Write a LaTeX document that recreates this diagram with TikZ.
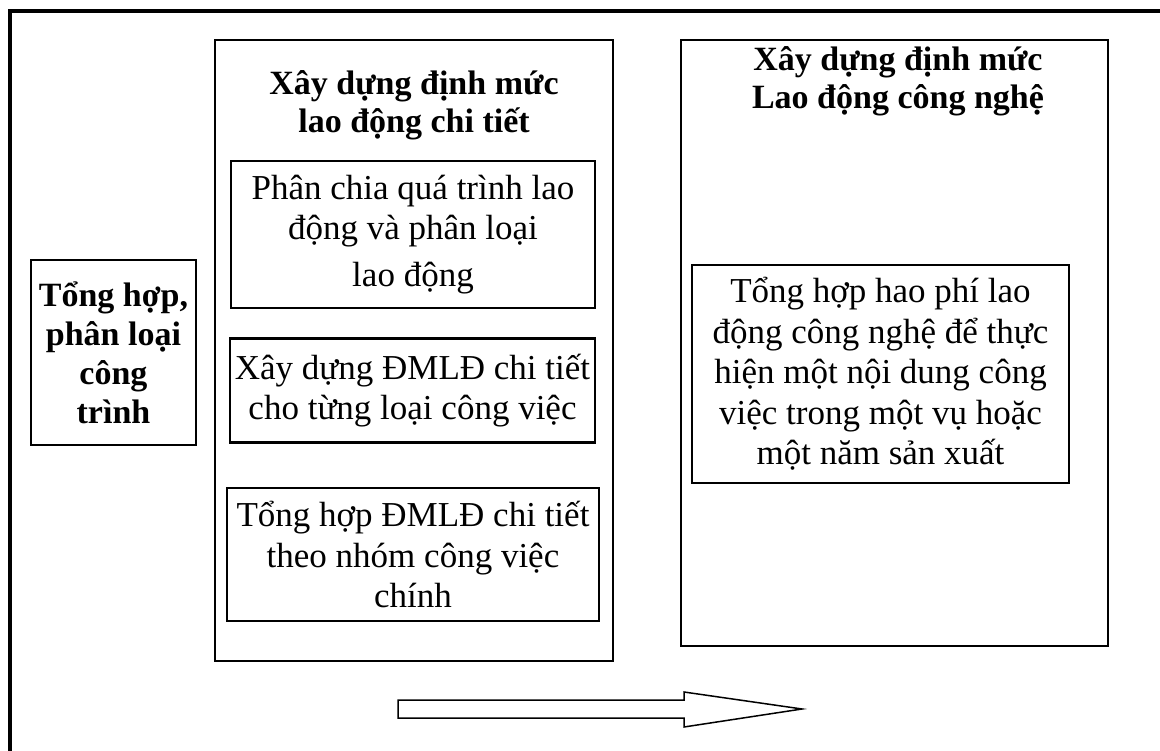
\documentclass[tikz,border=0pt]{standalone}
\usepackage{fontspec}
\setmainfont{Liberation Serif}
\begin{document}
\begin{tikzpicture}[x=1pt,y=-1pt,
    framebox/.style={draw, line width=2.5pt, inner sep=0pt},
    bodytext/.style={align=center, font=\fontsize{35}{40.5}\selectfont},
    headtext/.style={align=center, font=\fontsize{34}{38}\selectfont\bfseries}]
    \clip (0,0) rectangle (1160,751);
    \draw[line width=3.5pt] (10,11) rectangle (1200,800);
    % left column
    \node [framebox, line width=2pt, minimum width=165pt, minimum height=185pt, headtext, font=\fontsize{34}{39}\selectfont\bfseries] (tonghop) at (113.5,352.5) {Tổng hợp,\\phân loại\\công\\trình};
    % detailed labour norms
    \node [framebox, minimum width=398pt, minimum height=621pt] (chitiet) at (414,350.5) {};
    \node [headtext] (chitiettitle) at (414,105) {Xây dựng định mức\\lao động chi tiết};
    \node [framebox, minimum width=364pt, minimum height=147pt, bodytext] (phanchia) at (413,234.5) {Phân chia quá trình lao\\động và phân loại\\[6pt]lao động};
    \node [framebox, minimum width=365pt, minimum height=104pt, bodytext] (xaydung) at (412.5,390.5) {Xây dựng ĐMLĐ chi tiết\\cho từng loại công việc};
    \node [framebox, minimum width=372pt, minimum height=133pt, bodytext] (nhom) at (413,554.5) {Tổng hợp ĐMLĐ chi tiết\\theo nhóm công việc\\chính};
    % technological labour norms
    \node [framebox, minimum width=427pt, minimum height=606pt] (congnghe) at (894.5,343) {};
    \node [headtext] (congnghetitle) at (898,81) {Xây dựng định mức\\Lao động công nghệ};
    \node [framebox, minimum width=377pt, minimum height=218pt, bodytext] (haophi) at (880.5,374) {Tổng hợp hao phí lao\\động công nghệ để thực\\hiện một nội dung công\\việc trong một vụ hoặc\\một năm sản xuất};
    % block arrow
    \draw[line width=1.5pt, line join=miter] (398,700) -- (684,700) -- (684,692) -- (802,709) -- (684,727) -- (684,718) -- (398,718) -- cycle;
\end{tikzpicture}
\end{document}
